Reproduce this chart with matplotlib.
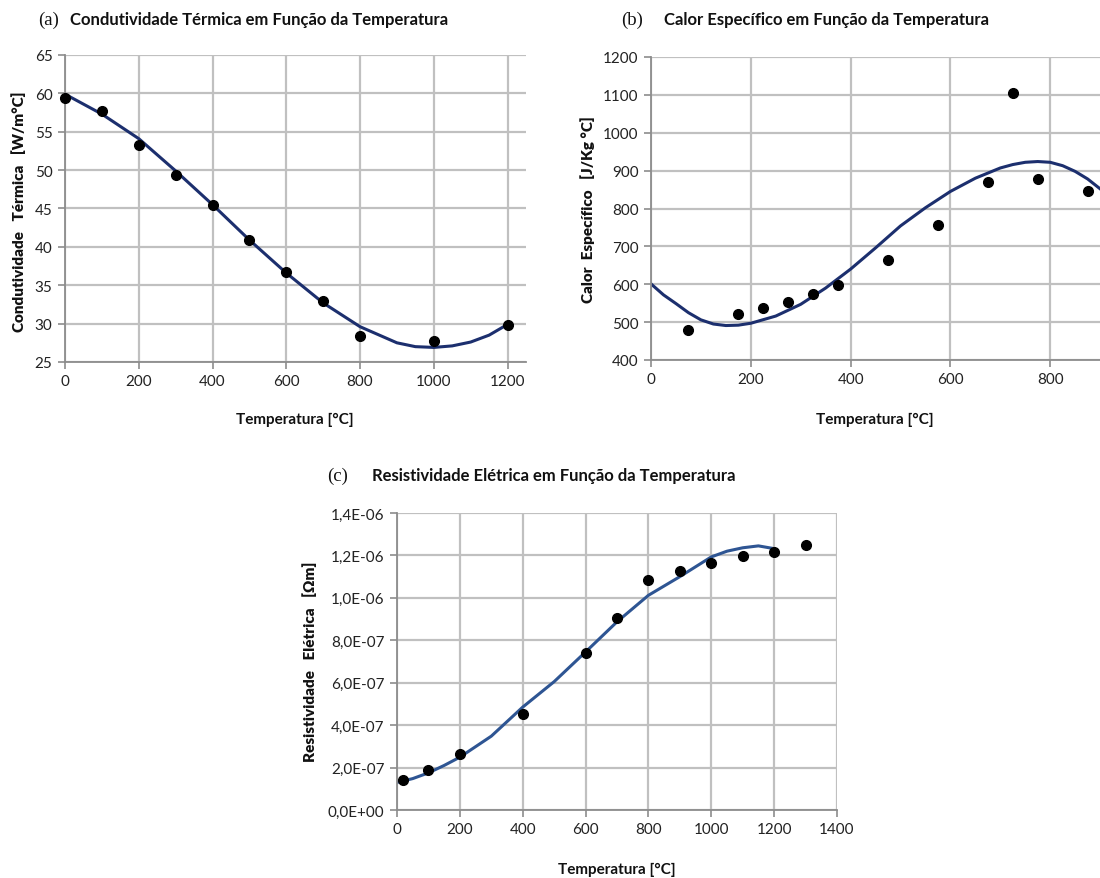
import numpy as np
import matplotlib
matplotlib.use('Agg')
import matplotlib.pyplot as plt

# (a) condutividade termica
temp_k = [0, 100, 200, 300, 400, 500, 600, 700, 800, 1000, 1200]
cond_k = [59.4, 57.7, 53.3, 49.4, 45.5, 40.9, 36.7, 33.0, 28.4, 27.7, 29.8]
fit_temp_k = [0, 100, 200, 300, 400, 500, 600, 700, 800, 900, 950, 1000, 1050, 1100, 1150, 1200]
fit_cond_k = [59.9, 57.3, 54.1, 49.9, 45.5, 40.9, 36.6, 32.7, 29.6, 27.5, 27.0, 26.9, 27.1, 27.6, 28.5, 29.9]

# (b) calor especifico
temp_c = [75, 175, 225, 275, 325, 375, 475, 575, 675, 725, 775, 875]
cp_c = [480, 522, 537, 553, 574, 599, 663, 756, 870, 1105, 877, 845]
fit_temp_c = [0, 25, 50, 75, 100, 125, 150, 175, 200, 250, 300, 350, 400, 450, 500, 550,
              600, 650, 700, 725, 750, 775, 800, 825, 850, 875, 900]
fit_cp_c = [601, 572, 549, 525, 506, 495, 491, 492, 497, 516, 547, 590, 640, 696, 754, 802,
            845, 880, 907, 916, 922, 924, 922, 913, 898, 878, 852]

# (c) resistividade eletrica
temp_r = [20, 100, 200, 400, 600, 700, 800, 900, 1000, 1100, 1200, 1300]
res_r = [1.43e-7, 1.88e-7, 2.62e-7, 4.54e-7, 7.38e-7, 9.06e-7, 1.084e-6, 1.128e-6,
         1.166e-6, 1.195e-6, 1.217e-6, 1.247e-6]
fit_temp_r = [0, 50, 100, 150, 200, 300, 400, 500, 600, 700, 800, 900, 1000, 1050, 1100, 1150, 1200]
fit_res_r = [1.3e-7, 1.48e-7, 1.75e-7, 2.1e-7, 2.49e-7, 3.48e-7, 4.85e-7, 6.05e-7, 7.45e-7, 8.87e-7,
             1.012e-6, 1.10e-6, 1.193e-6, 1.22e-6, 1.236e-6, 1.245e-6, 1.232e-6]
res_ticks = [0, 2e-7, 4e-7, 6e-7, 8e-7, 1e-6, 1.2e-6, 1.4e-6]
res_labels = ['0,0E+00', '2,0E-07', '4,0E-07', '6,0E-07', '8,0E-07', '1,0E-06', '1,2E-06', '1,4E-06']

W, H = 1100, 879
sans = ['Lato', 'DejaVu Sans']
serif = ['Liberation Serif', 'DejaVu Serif']

fig = plt.figure(figsize=(11, 8.79), dpi=100)


def box(x0, y0, x1, y1):
    # pixel box (top-left origin) -> figure fraction
    return [x0 / W, 1 - y1 / H, (x1 - x0) / W, (y1 - y0) / H]


def style(ax):
    ax.grid(True, color='#c0c0c0', lw=1.6)
    ax.set_axisbelow(True)
    for s in ['top', 'right']:
        ax.spines[s].set_visible(False)
    for s in ['left', 'bottom']:
        ax.spines[s].set_color('#8c8c8c')
        ax.spines[s].set_linewidth(1.3)
    ax.tick_params(direction='out', length=5, width=1.2, color='#8c8c8c',
                   labelsize=11, labelcolor='#222222', pad=4)
    for lab in ax.get_xticklabels() + ax.get_yticklabels():
        lab.set_family(sans)


def ftext(x, y, s, **kw):
    fig.text(x / W, 1 - y / H, s, **kw)


# panel a
ax1 = fig.add_axes(box(65, 56, 526, 363))
ax1.plot(fit_temp_k, fit_cond_k, color='#1c2f6e', lw=2.2, zorder=2)
ax1.plot(temp_k, cond_k, 'o', color='black', ms=7, zorder=3, clip_on=False)
ax1.set_xlim(0, 1250)
ax1.set_ylim(25, 65)
ax1.set_xticks(range(0, 1201, 200))
ax1.set_yticks(range(25, 66, 5))
style(ax1)

# panel b (cut at the right edge of the figure)
ax2 = fig.add_axes(box(651, 58, 651 + 499, 361))
ax2.plot(fit_temp_c, fit_cp_c, color='#1c2f6e', lw=2.2, zorder=2)
ax2.plot(temp_c, cp_c, 'o', color='black', ms=7, zorder=3)
ax2.set_xlim(0, 1000)
ax2.set_ylim(400, 1200)
ax2.set_xticks(range(0, 801, 200))
ax2.set_yticks(range(400, 1201, 100))
style(ax2)

# panel c
ax3 = fig.add_axes(box(397, 514, 837, 811))
ax3.plot(fit_temp_r, fit_res_r, color='#2e5593', lw=2.2, zorder=2)
ax3.plot(temp_r, res_r, 'o', color='black', ms=7, zorder=3)
ax3.set_xlim(0, 1400)
ax3.set_ylim(0, 1.4e-6)
ax3.set_xticks(range(0, 1401, 200))
ax3.set_yticks(res_ticks)
ax3.set_yticklabels(res_labels)
style(ax3)

# titles
tkw = dict(family=sans, fontsize=12, fontweight='bold', color='#111111', va='center')
pkw = dict(family=serif, fontsize=13.5, color='#111111', va='center')
ftext(38, 20, '(a)', **pkw)
ftext(70, 20, 'Condutividade Térmica em Função da Temperatura', **tkw)
ftext(621, 20, '(b)', **pkw)
ftext(664, 20, 'Calor Específico em Função da Temperatura', **tkw)
ftext(327, 476, '(c)', **pkw)
ftext(372, 476, 'Resistividade Elétrica em Função da Temperatura', **tkw)

# axis labels
lkw = dict(family=sans, fontsize=11, fontweight='bold', color='#111111', ha='center', va='center')
ykw = dict(lkw, fontweight='heavy', rotation=90)
ftext(295, 420, 'Temperatura [°C]', **lkw)
ftext(875, 420, 'Temperatura [°C]', **lkw)
ftext(617, 870, 'Temperatura [°C]', **lkw)
ftext(19, 212, 'Condutividade   Térmica   [W/m°C]', **ykw)
ftext(588, 210, 'Calor  Específico   [J/Kg °C]', **ykw)
ftext(310, 662, 'Resistividade   Elétrica   [Ωm]', **ykw)

fig.savefig('out.png', dpi=100)
